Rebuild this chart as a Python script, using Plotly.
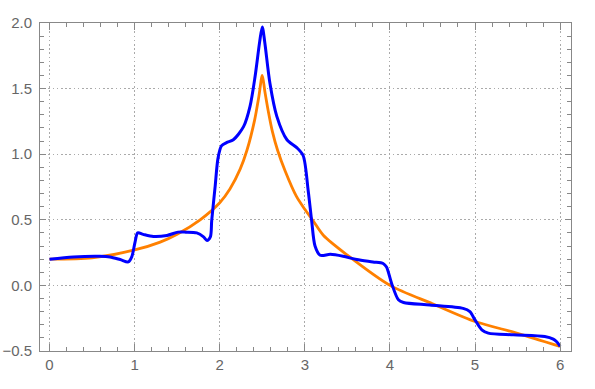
import plotly.graph_objects as go

# Orange curve (cusp-shaped reference curve)
orange_x = [0, 0.5, 1.0, 1.3, 1.5, 1.77, 2.0, 2.12, 2.24, 2.32, 2.41, 2.46, 2.5,
            2.53, 2.57, 2.62, 2.68, 2.77, 2.9, 3.0, 3.1, 3.22, 3.5, 4.0, 4.5, 5.0, 5.5, 6.0]
orange_y = [0.20, 0.21, 0.27, 0.33, 0.39, 0.50, 0.63, 0.735, 0.886, 1.03, 1.26, 1.44, 1.60,
            1.48, 1.33, 1.17, 1.03, 0.87, 0.68, 0.58, 0.49, 0.38, 0.23, 0.0, -0.14, -0.275, -0.365, -0.465]

# Blue curve (stepped oscillating curve)
blue_x = [0, 0.28, 0.59, 0.71, 0.83, 0.926, 0.966, 1.005, 1.036, 1.10, 1.22, 1.38, 1.51,
          1.6, 1.73, 1.81, 1.85, 1.89, 1.906, 1.945, 1.98, 2.02, 2.08, 2.16, 2.28, 2.356,
          2.415, 2.47, 2.5, 2.53, 2.59, 2.67, 2.79, 2.905, 2.98, 3.04, 3.08, 3.12, 3.18,
          3.30, 3.45, 3.61, 3.80, 3.92, 3.96, 4.02, 4.10, 4.16, 4.47, 4.86, 4.94, 5.0,
          5.08, 5.156, 5.45, 5.82, 5.92, 5.96, 6.0]
blue_y = [0.20, 0.217, 0.222, 0.217, 0.197, 0.179, 0.217, 0.33, 0.40, 0.389, 0.373, 0.381, 0.406,
          0.406, 0.40, 0.37, 0.343, 0.37, 0.495, 0.747, 0.97, 1.063, 1.088, 1.11, 1.21, 1.365,
          1.59, 1.86, 1.97, 1.85, 1.54, 1.29, 1.11, 1.05, 0.99, 0.72, 0.495, 0.30, 0.23,
          0.237, 0.222, 0.197, 0.179, 0.167, 0.14, 0.015, -0.11, -0.13, -0.149, -0.175, -0.20, -0.263,
          -0.339, -0.364, -0.377, -0.39, -0.41, -0.43, -0.465]

x_ticks = [0, 1, 2, 3, 4, 5, 6]
y_ticks = [-0.5, 0.0, 0.5, 1.0, 1.5, 2.0]

fig = go.Figure()
fig.add_trace(go.Scatter(x=orange_x, y=orange_y, mode="lines",
                         line=dict(color="#FF8000", width=2.8, shape="spline", smoothing=0.8)))
fig.add_trace(go.Scatter(x=blue_x, y=blue_y, mode="lines",
                         line=dict(color="#0000FF", width=3, shape="spline", smoothing=0.8)))

axis_common = dict(
    showline=True, linecolor="#888888", linewidth=1, mirror="allticks",
    ticks="inside", tickcolor="#888888", tickwidth=1,
    showgrid=True, gridcolor="#AAAAAA", gridwidth=1, griddash="1.5px,2.7px",
    zeroline=False, automargin=False,
    tickfont=dict(family="Liberation Sans, Arial, sans-serif", size=15, color="#666666"),
)

fig.update_xaxes(range=[-0.112, 6.128], tickvals=x_ticks, ticktext=[str(v) for v in x_ticks],
                 ticklen=7,
                 minor=dict(dtick=0.2, tick0=0, ticks="inside", ticklen=4, tickcolor="#888888", showgrid=False),
                 **axis_common)
fig.update_yaxes(range=[-0.5, 2.0], tickvals=y_ticks, tickformat=".1f",
                 ticklen=6, ticklabelstandoff=4,
                 minor=dict(dtick=0.1, tick0=0, ticks="inside", ticklen=4, tickcolor="#888888", showgrid=False),
                 **axis_common)

fig.update_layout(
    width=595, height=389,
    margin=dict(l=40, r=24, t=23, b=38),
    paper_bgcolor="white", plot_bgcolor="white",
    showlegend=False,
    hovermode=False,
)

# remove the default page margin so the figure sits at the window's top-left corner
fig.write_html("out.html", config={"displayModeBar": False},
               post_script="document.body.style.margin='0';")
